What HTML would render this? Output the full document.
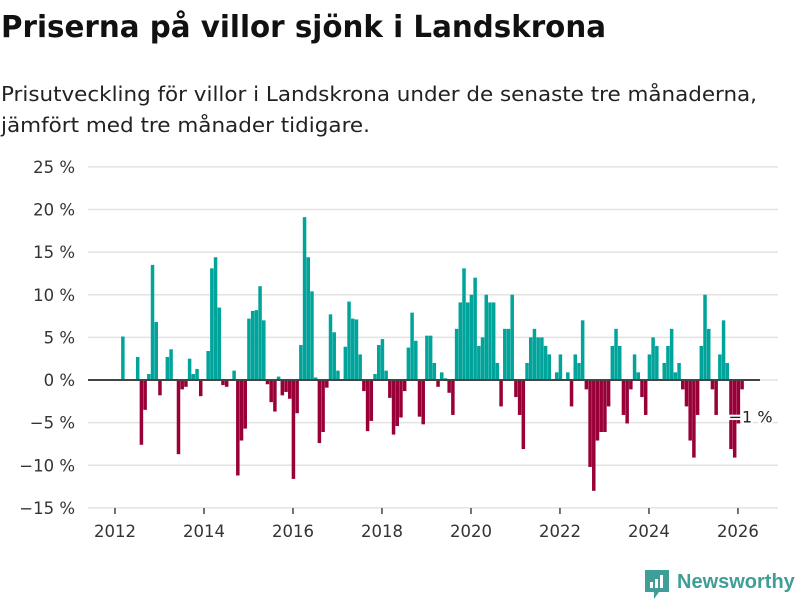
<!DOCTYPE html>
<html><head><meta charset="utf-8"><style>
body{margin:0;width:800px;height:600px;background:#fff;font-family:"Liberation Sans",sans-serif;overflow:hidden;position:relative}
svg{position:absolute;left:0;top:0}
</style></head><body>
<svg width="800" height="150" style="position:absolute;left:0;top:0">
<text x="1" y="37" font-family="DejaVu Sans, sans-serif" font-weight="bold" font-size="30" fill="#111" textLength="605" lengthAdjust="spacingAndGlyphs">Priserna på villor sjönk i Landskrona</text>
<text x="1" y="101" font-family="DejaVu Sans, sans-serif" font-size="20.5" fill="#222" textLength="756" lengthAdjust="spacingAndGlyphs">Prisutveckling för villor i Landskrona under de senaste tre månaderna,</text>
<text x="1" y="132" font-family="DejaVu Sans, sans-serif" font-size="20.5" fill="#222" textLength="369" lengthAdjust="spacingAndGlyphs">jämfört med tre månader tidigare.</text>
</svg>
<svg id="chart" width="800" height="600"></svg>
<script>
const yTicks=[25,20,15,10,5,0,-5,-10,-15];
const yTickLabels=["25 %","20 %","15 %","10 %","5 %","0 %","−5 %","−10 %","−15 %"];
const xTicks=[2012,2014,2016,2018,2020,2022,2024,2026];
const startYear=2012;
const values=[0,0,5.1,0,0,0,2.7,-7.6,-3.5,0.7,13.5,6.8,-1.8,0,2.7,3.6,0,-8.7,-1.1,-0.8,2.5,0.7,1.3,-1.9,0,3.4,13.1,14.4,8.5,-0.6,-0.8,0,1.1,-11.2,-7.1,-5.7,7.2,8.1,8.2,11.0,7.0,-0.5,-2.6,-3.7,0.4,-1.8,-1.4,-2.2,-11.6,-3.9,4.1,19.1,14.4,10.4,0.3,-7.4,-6.1,-0.9,7.7,5.6,1.1,0,3.9,9.2,7.2,7.1,3.0,-1.3,-6.0,-4.8,0.7,4.1,4.8,1.1,-2.1,-6.4,-5.4,-4.4,-1.3,3.8,7.9,4.6,-4.3,-5.2,5.2,5.2,2.0,-0.8,0.9,0.2,-1.5,-4.1,6,9.1,13.1,9.1,10,12,4,5,10,9.1,9.1,2,-3.1,6,6,10,-2,-4.1,-8.1,2,5,6,5,5,4,3,0,0.9,3,0,0.9,-3.1,3,2,7,-1.1,-10.2,-13,-7.1,-6.1,-6.1,-3.1,4,6,4,-4.1,-5.1,-1.1,3,0.9,-2,-4.1,3,5,4,0,2,4,6,0.9,2,-1.1,-3.1,-7.1,-9.1,-4.1,4,10,6,-1.1,-4.1,3,7,2,-8.1,-9.1,-5.1,-1.1];
const lastLabel="−1 %";

const NS="http://www.w3.org/2000/svg";
const svg=document.getElementById('chart');
const y=v=>380-v*8.525;
const xm=m=>115+m*3.708;
const xy=yr=>xm((yr-startYear)*12);
function mk(t,a,p){const e=document.createElementNS(NS,t);for(const k in a)e.setAttribute(k,a[k]);(p||svg).appendChild(e);return e;}
yTicks.forEach((t,i)=>{
  const g=mk('line',{x1:88,x2:778,y1:y(t),y2:y(t),stroke:'#e2e2e2','stroke-width':1.5});
  
  
  const l=mk('text',{x:75,y:y(t)+6,'text-anchor':'end','font-size':16.5,fill:'#333','font-family':'DejaVu Sans, sans-serif'});
  l.textContent=yTickLabels[i];
  
  
});
xTicks.forEach(t=>{
  const tk=mk('line',{x1:xy(t),x2:xy(t),y1:508,y2:514,stroke:'#444','stroke-width':1.5});
  
  
  const l=mk('text',{x:xy(t),y:537,'text-anchor':'middle','font-size':16.5,fill:'#333','font-family':'DejaVu Sans, sans-serif'});
  l.textContent=t;
  
  
});
values.forEach((v,m)=>{
  if(v===0)return;
  const top=Math.min(y(v),y(0)),h=Math.abs(y(v)-y(0));
  const b=mk('rect',{x:xm(m)-1.3,y:top,width:3.5,height:h,fill:v>0?'#00a49a':'#990038'});
  
  
});
const z=mk('line',{x1:88,x2:760,y1:y(0),y2:y(0),stroke:'#444','stroke-width':2});


const lm=values.length-1;
const vl=mk('text',{x:xm(lm)-13,y:y(values[lm])+33,'font-size':16,fill:'#222',stroke:'#fff','stroke-width':4,'paint-order':'stroke','font-family':'DejaVu Sans, sans-serif'});
vl.textContent=lastLabel;


</script>
<div style="position:absolute;left:645px;top:570px;display:flex;align-items:center">
<svg width="24" height="30" viewBox="0 0 24 30" style="position:static"><path d="M0 0H24V22H14L9 29V22H0Z" fill="#3f9e96"/><rect x="5" y="12" width="3" height="6" fill="#fff"/><rect x="10" y="9" width="3" height="9" fill="#fff"/><rect x="15" y="5" width="3" height="13" fill="#fff"/></svg>
<span style="margin-left:8px;font-size:20px;font-weight:bold;color:#3f9e96;margin-top:-6px">Newsworthy</span>
</div>
</body></html>
